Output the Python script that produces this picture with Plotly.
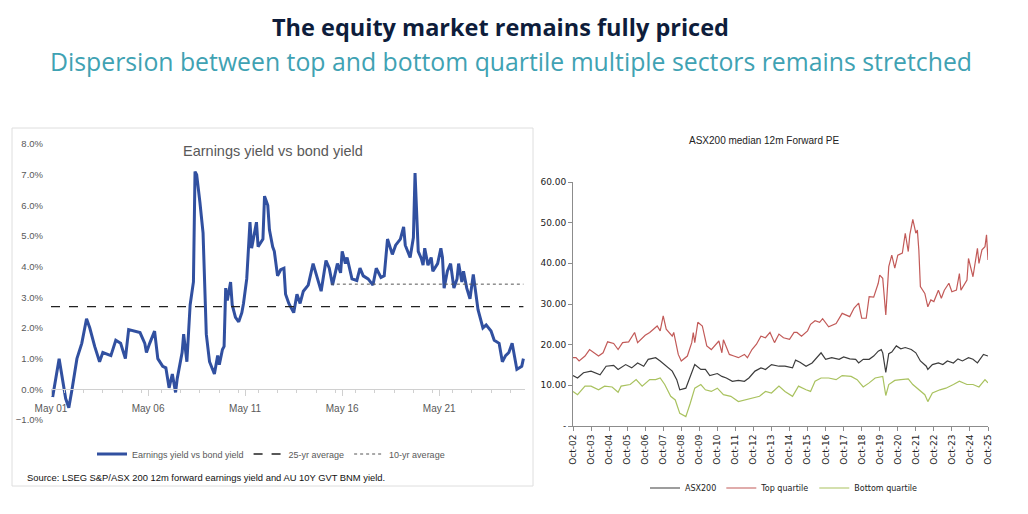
import plotly.graph_objects as go

# left panel: earnings yield minus bond yield (%)
ey_dates = [
    "2001-06", "2001-10", "2002-02", "2002-04", "2002-06", "2002-09", "2002-12", "2003-03", "2003-05", "2003-08",
    "2003-11", "2004-01", "2004-06", "2004-09", "2004-12", "2005-03", "2005-05", "2005-08", "2005-12", "2006-03",
    "2006-04", "2006-06", "2006-09", "2006-11", "2007-02", "2007-04", "2007-06", "2007-08", "2007-10", "2007-11",
    "2008-02", "2008-03", "2008-05", "2008-07", "2008-09", "2008-10", "2008-11", "2009-01", "2009-03", "2009-05",
    "2009-07", "2009-10", "2009-12", "2010-01", "2010-03", "2010-04", "2010-05", "2010-06", "2010-08", "2010-09",
    "2010-11", "2011-01", "2011-03", "2011-04", "2011-06", "2011-08", "2011-09", "2011-12", "2012-01", "2012-04",
    "2012-05", "2012-07", "2012-08", "2012-10", "2012-11", "2013-01", "2013-03", "2013-05", "2013-06", "2013-08",
    "2013-11", "2014-01", "2014-03", "2014-05", "2014-08", "2014-11", "2015-02", "2015-04", "2015-07", "2015-09",
    "2015-11", "2016-02", "2016-04", "2016-05", "2016-07", "2016-08", "2016-11", "2017-02", "2017-04", "2017-06",
    "2017-09", "2017-12", "2018-02", "2018-05", "2018-07", "2018-09", "2018-12", "2019-02", "2019-05", "2019-07",
    "2019-08", "2019-11", "2020-01", "2020-02", "2020-04", "2020-06", "2020-07", "2020-08", "2020-10", "2020-12",
    "2021-01", "2021-04", "2021-06", "2021-07", "2021-08", "2021-10", "2021-12", "2022-02", "2022-04", "2022-05",
    "2022-07", "2022-08", "2022-10", "2022-12", "2023-02", "2023-03", "2023-05", "2023-08", "2023-10", "2024-01",
    "2024-03", "2024-06", "2024-08", "2024-10", "2024-12", "2025-02", "2025-04", "2025-05", "2025-08", "2025-09",
]
ey_values = [
    -0.25, 1.0, -0.3, -0.6, 0.0, 1.0, 1.5, 2.3, 2.0, 1.4,
    0.9, 1.2, 1.1, 1.6, 1.5, 1.0, 1.95, 1.9, 1.85, 1.5,
    1.2, 1.5, 1.9, 1.0, 0.75, 0.7, 0.05, 0.5, -0.1, 0.35,
    1.2, 1.8, 0.9, 2.75, 3.5, 7.1, 7.0, 6.1, 5.1, 1.8,
    0.9, 0.5, 1.1, 0.8, 1.3, 1.4, 3.3, 2.9, 3.5, 2.75,
    2.35, 2.2, 2.5, 2.8, 3.6, 5.45, 4.6, 5.45, 4.65, 4.9,
    6.3, 6.0, 5.2, 4.65, 4.5, 3.7, 3.9, 3.95, 3.1, 2.8,
    2.5, 3.1, 2.8, 3.2, 3.4, 4.1, 3.6, 3.2, 4.2, 3.95,
    3.4, 4.1, 3.8, 4.5, 4.1, 4.3, 3.6, 3.55, 3.95, 3.7,
    3.6, 3.4, 3.95, 3.65, 3.7, 4.9, 4.4, 4.7, 4.9, 5.3,
    4.7, 4.3, 4.95, 7.05, 4.5, 4.25, 4.05, 4.6, 4.05, 4.3,
    3.85, 4.1, 4.6, 4.3, 3.3, 3.85, 4.1, 3.3, 3.6, 4.1,
    3.5, 3.85, 3.3, 2.95, 3.75, 3.4, 2.6, 2.0, 2.1, 1.9,
    1.6, 1.5, 0.9, 1.1, 1.2, 1.5, 1.0, 0.65, 0.75, 1.0,
]
avg25_dates = ["2001-05", "2025-09"]
avg25_values = [2.7, 2.7]
avg10_dates = ["2015-10", "2025-09"]
avg10_values = [3.43, 3.43]

# right panel: ASX200 median 12m forward PE
top_dates = [
    "2002-10", "2002-12", "2003-02", "2003-06", "2003-09", "2003-12", "2004-03", "2004-06", "2004-09", "2005-01",
    "2005-04", "2005-07", "2005-11", "2006-03", "2006-05", "2006-10", "2007-01", "2007-06", "2007-08", "2007-10",
    "2007-12", "2008-04", "2008-05", "2008-08", "2008-10", "2009-02", "2009-05", "2009-06", "2009-07", "2009-09",
    "2009-12", "2010-03", "2010-06", "2010-11", "2011-01", "2011-02", "2011-06", "2011-09", "2011-12", "2012-04",
    "2012-06", "2012-09", "2012-12", "2013-03", "2013-06", "2013-09", "2013-12", "2014-03", "2014-06", "2014-10",
    "2015-01", "2015-03", "2015-06", "2015-10", "2015-12", "2016-03", "2016-06", "2016-08", "2016-12", "2017-05",
    "2017-09", "2018-02", "2018-05", "2018-08", "2018-10", "2019-01", "2019-03", "2019-06", "2019-09", "2019-10",
    "2019-12", "2020-02", "2020-04", "2020-06", "2020-08", "2020-10", "2021-01", "2021-03", "2021-05", "2021-06",
    "2021-08", "2021-10", "2021-11", "2021-12", "2022-01", "2022-04", "2022-06", "2022-08", "2022-10", "2023-01",
    "2023-03", "2023-05", "2023-08", "2023-10", "2024-01", "2024-03", "2024-04", "2024-08", "2024-09", "2024-12",
    "2025-03", "2025-04", "2025-06", "2025-08", "2025-09", "2025-10",
]
top_values = [
    16.8, 16.8, 16.0, 17.2, 18.8, 18.0, 17.2, 18.0, 20.7, 20.3,
    18.8, 20.5, 20.7, 23.0, 20.5, 22.3, 23.0, 24.6, 23.4, 27.1,
    23.8, 22.1, 23.0, 17.6, 16.0, 17.2, 20.5, 23.0, 20.5, 25.5,
    24.6, 19.7, 18.8, 20.9, 18.0, 21.2, 17.6, 17.2, 16.8, 17.6,
    16.8, 18.8, 20.1, 22.1, 21.7, 23.0, 20.5, 22.6, 21.7, 21.3,
    23.0, 23.0, 22.1, 23.4, 25.0, 25.9, 25.5, 26.4, 24.4, 25.2,
    27.7, 26.9, 29.0, 30.2, 26.5, 26.5, 31.8, 31.7, 35.1, 37.1,
    36.3, 27.3, 39.2, 42.0, 38.8, 42.0, 42.5, 47.4, 42.9, 47.0,
    50.8, 47.4, 48.2, 43.3, 34.3, 32.6, 29.3, 31.0, 30.6, 33.4,
    31.4, 33.4, 35.1, 33.0, 33.4, 37.5, 33.4, 35.9, 41.2, 36.7,
    43.7, 40.0, 43.3, 44.1, 47.0, 40.8,
]

asx_dates = [
    "2002-10", "2003-01", "2003-05", "2003-10", "2004-04", "2004-08", "2005-01", "2005-04", "2005-09", "2006-01",
    "2006-05", "2006-09", "2006-12", "2007-05", "2007-08", "2007-11", "2008-04", "2008-07", "2008-09", "2009-01",
    "2009-04", "2009-07", "2009-11", "2010-02", "2010-05", "2010-10", "2011-01", "2011-04", "2011-08", "2011-12",
    "2012-04", "2012-07", "2012-11", "2013-03", "2013-06", "2013-10", "2014-03", "2014-07", "2014-12", "2015-02",
    "2015-05", "2015-09", "2016-01", "2016-04", "2016-07", "2016-10", "2017-02", "2017-07", "2017-10", "2018-02",
    "2018-06", "2018-08", "2018-11", "2019-03", "2019-06", "2019-09", "2019-11", "2019-12", "2020-02", "2020-04",
    "2020-06", "2020-09", "2020-12", "2021-03", "2021-07", "2021-10", "2022-01", "2022-05", "2022-06", "2022-09",
    "2023-01", "2023-04", "2023-07", "2023-11", "2024-02", "2024-05", "2024-09", "2024-12", "2025-03", "2025-07",
    "2025-10",
]
asx_values = [
    12.4, 11.8, 13.1, 13.5, 12.6, 14.7, 14.9, 13.9, 15.1, 14.3,
    15.5, 14.7, 16.4, 16.8, 16.0, 15.1, 13.5, 11.4, 8.9, 9.3,
    12.2, 15.1, 13.9, 13.9, 12.4, 12.9, 12.2, 11.8, 11.0, 11.2,
    11.0, 11.8, 13.5, 14.3, 13.9, 15.1, 14.7, 14.7, 14.3, 16.2,
    15.7, 14.7, 15.5, 16.8, 18.0, 16.4, 16.8, 16.4, 17.0, 16.5,
    16.4, 15.5, 16.4, 16.4, 17.2, 18.4, 18.8, 18.0, 13.2, 17.8,
    18.2, 19.7, 19.0, 19.3, 18.8, 18.0, 16.0, 14.7, 13.9, 15.1,
    15.5, 15.1, 16.0, 15.5, 16.5, 16.0, 16.8, 16.4, 15.5, 17.6,
    17.2,
]

bottom_dates = [
    "2002-10", "2003-01", "2003-06", "2003-10", "2004-03", "2004-07", "2004-12", "2005-04", "2005-06", "2005-12",
    "2006-04", "2006-08", "2007-01", "2007-05", "2007-08", "2007-11", "2008-03", "2008-06", "2008-09", "2009-01",
    "2009-04", "2009-07", "2009-11", "2010-02", "2010-06", "2010-10", "2011-02", "2011-07", "2011-12", "2012-05",
    "2012-09", "2013-02", "2013-06", "2013-10", "2014-03", "2014-07", "2014-12", "2015-04", "2015-09", "2015-12",
    "2016-03", "2016-07", "2016-12", "2017-05", "2017-09", "2018-03", "2018-07", "2018-11", "2019-03", "2019-07",
    "2019-12", "2020-02", "2020-04", "2020-08", "2020-12", "2021-05", "2021-08", "2021-12", "2022-04", "2022-06",
    "2022-09", "2023-02", "2023-06", "2023-11", "2024-03", "2024-08", "2024-12", "2025-04", "2025-08", "2025-10",
]
bottom_values = [
    8.5, 7.7, 9.8, 9.8, 8.9, 9.8, 9.6, 8.3, 9.8, 10.2,
    11.4, 9.8, 11.4, 11.4, 11.8, 10.2, 7.3, 6.4, 3.1, 2.3,
    5.6, 9.3, 10.2, 8.9, 8.5, 9.3, 7.7, 7.3, 6.0, 6.4,
    6.9, 7.3, 8.5, 8.1, 9.8, 8.5, 7.3, 9.8, 8.9, 8.5,
    11.0, 11.8, 11.8, 11.4, 12.4, 12.2, 11.4, 9.6, 10.6, 11.8,
    12.2, 7.5, 10.2, 11.2, 11.4, 11.6, 10.2, 8.9, 7.7, 6.0,
    8.1, 8.9, 9.3, 10.2, 11.0, 10.2, 10.2, 9.6, 11.4, 10.6,
]

pe_ticks = [0, 10, 20, 30, 40, 50, 60]
pe_ticktext = ["-", "10.00", "20.00", "30.00", "40.00", "50.00", "60.00"]

W, H = 1028, 514
OFF = 8  # page body margin pushes the plot down/right


def px(x):
    return (x - OFF) / W


def py(y):
    return 1 - (y - OFF) / H


fig = go.Figure()

# left chart
fig.add_trace(go.Scatter(x=ey_dates, y=ey_values, mode="lines", name="Earnings yield vs bond yield",
                         line=dict(color="#3150a0", width=3), xaxis="x", yaxis="y", legend="legend"))
fig.add_trace(go.Scatter(x=avg25_dates, y=avg25_values, mode="lines", name="25-yr average",
                         line=dict(color="#222222", width=1.3, dash="dash"), xaxis="x", yaxis="y", legend="legend"))
fig.add_trace(go.Scatter(x=avg10_dates, y=avg10_values, mode="lines", name="10-yr average",
                         line=dict(color="#555555", width=1, dash="dot"), xaxis="x", yaxis="y", legend="legend"))

# right chart
fig.add_trace(go.Scatter(x=asx_dates, y=asx_values, mode="lines", name="ASX200",
                         line=dict(color="#3c3c3c", width=1.2), xaxis="x2", yaxis="y2", legend="legend2"))
fig.add_trace(go.Scatter(x=top_dates, y=top_values, mode="lines", name="Top quartile",
                         line=dict(color="#c25a58", width=1.2), xaxis="x2", yaxis="y2", legend="legend2"))
fig.add_trace(go.Scatter(x=bottom_dates, y=bottom_values, mode="lines", name="Bottom quartile",
                         line=dict(color="#a9c25f", width=1.2), xaxis="x2", yaxis="y2", legend="legend2"))

grey = "#595959"
pe_font = "DejaVu Sans, sans-serif"
fig.update_layout(
    width=W, height=H,
    margin=dict(l=0, r=0, t=0, b=0, autoexpand=False),
    paper_bgcolor="white", plot_bgcolor="white",
    font=dict(family="Liberation Sans, Arial, sans-serif", color=grey),
    xaxis=dict(
        domain=[px(51), px(525)], range=["2001-05-01", "2025-10-01"], type="date",
        anchor="free", position=py(389), showline=True, linecolor="#d0d0d0", linewidth=1,
        tick0="2001-05-01", dtick="M60", tickformat="%b %y", ticks="outside", ticklen=6,
        tickcolor="#d0d0d0", ticklabelstandoff=4, tickfont=dict(size=10, color=grey),
        minor=dict(dtick="M12", ticks="outside", ticklen=3, tickcolor="#d0d0d0"),
        showgrid=False, zeroline=False, automargin=False,
    ),
    yaxis=dict(
        domain=[py(420), py(144)], range=[-1, 8], dtick=1, tickformat=".1f", ticksuffix="%",
        showgrid=False, zeroline=False, showline=False, tickfont=dict(size=9.5, color=grey),
        ticklabelstandoff=7, automargin=False,
    ),
    xaxis2=dict(
        domain=[px(573), px(988)], range=["2002-10-01", "2025-10-01"], type="date", anchor="y2",
        showline=True, linecolor="#8c8c8c", linewidth=1, tick0="2002-10-01", dtick="M12",
        tickformat="%b-%y", tickangle=-90, ticks="outside", ticklen=4, tickcolor="#8c8c8c",
        tickfont=dict(family=pe_font, size=9, color="#222222"),
        showgrid=False, zeroline=False, automargin=False,
    ),
    yaxis2=dict(
        domain=[py(426), py(182)], range=[0, 60], anchor="x2", tickvals=pe_ticks, ticktext=pe_ticktext,
        showline=True, linecolor="#8c8c8c", linewidth=1, ticks="outside", ticklen=4, tickcolor="#8c8c8c",
        tickfont=dict(family=pe_font, size=9, color="#222222"),
        showgrid=False, zeroline=False, automargin=False,
    ),
    legend=dict(orientation="h", x=px(92), y=py(454), xanchor="left", yanchor="middle",
                font=dict(size=9, color=grey), bgcolor="rgba(0,0,0,0)", itemwidth=30),
    legend2=dict(orientation="h", x=px(645), y=py(488), xanchor="left", yanchor="middle",
                 font=dict(family=pe_font, size=8, color="#222222"),
                 bgcolor="rgba(0,0,0,0)", itemwidth=30),
    shapes=[dict(type="rect", xref="paper", yref="paper", x0=px(12), x1=px(533), y0=py(486), y1=py(128),
                 line=dict(color="#dedede", width=1))],
    annotations=[
        dict(text="<b>The equity market remains fully priced</b>", x=px(500), y=py(27), xref="paper", yref="paper",
             xanchor="center", yanchor="middle", showarrow=False,
             font=dict(family="Open Sans, sans-serif", size=23.5, color="#0e1d3b")),
        dict(text="Dispersion between top and bottom quartile multiple sectors remains stretched",
             x=px(511), y=py(61), xref="paper", yref="paper", xanchor="center", yanchor="middle", showarrow=False,
             font=dict(family="Open Sans, sans-serif", size=24.8, color="#3fa2b3")),
        dict(text="Earnings yield vs bond yield", x=px(273), y=py(151), xref="paper", yref="paper",
             xanchor="center", yanchor="middle", showarrow=False, font=dict(size=14.5, color=grey)),
        dict(text="ASX200 median 12m Forward PE", x=px(764), y=py(140), xref="paper", yref="paper",
             xanchor="center", yanchor="middle", showarrow=False,
             font=dict(family="Liberation Sans, sans-serif", size=10, color="#222222")),
        dict(text="Source: LSEG S&P/ASX 200 12m forward earnings yield and AU 10Y GVT BNM yield.",
             x=px(25), y=py(477), xref="paper", yref="paper", xanchor="left", yanchor="middle", showarrow=False,
             font=dict(size=9.4, color="#111111")),
    ],
)

fig.write_html("out.html")
